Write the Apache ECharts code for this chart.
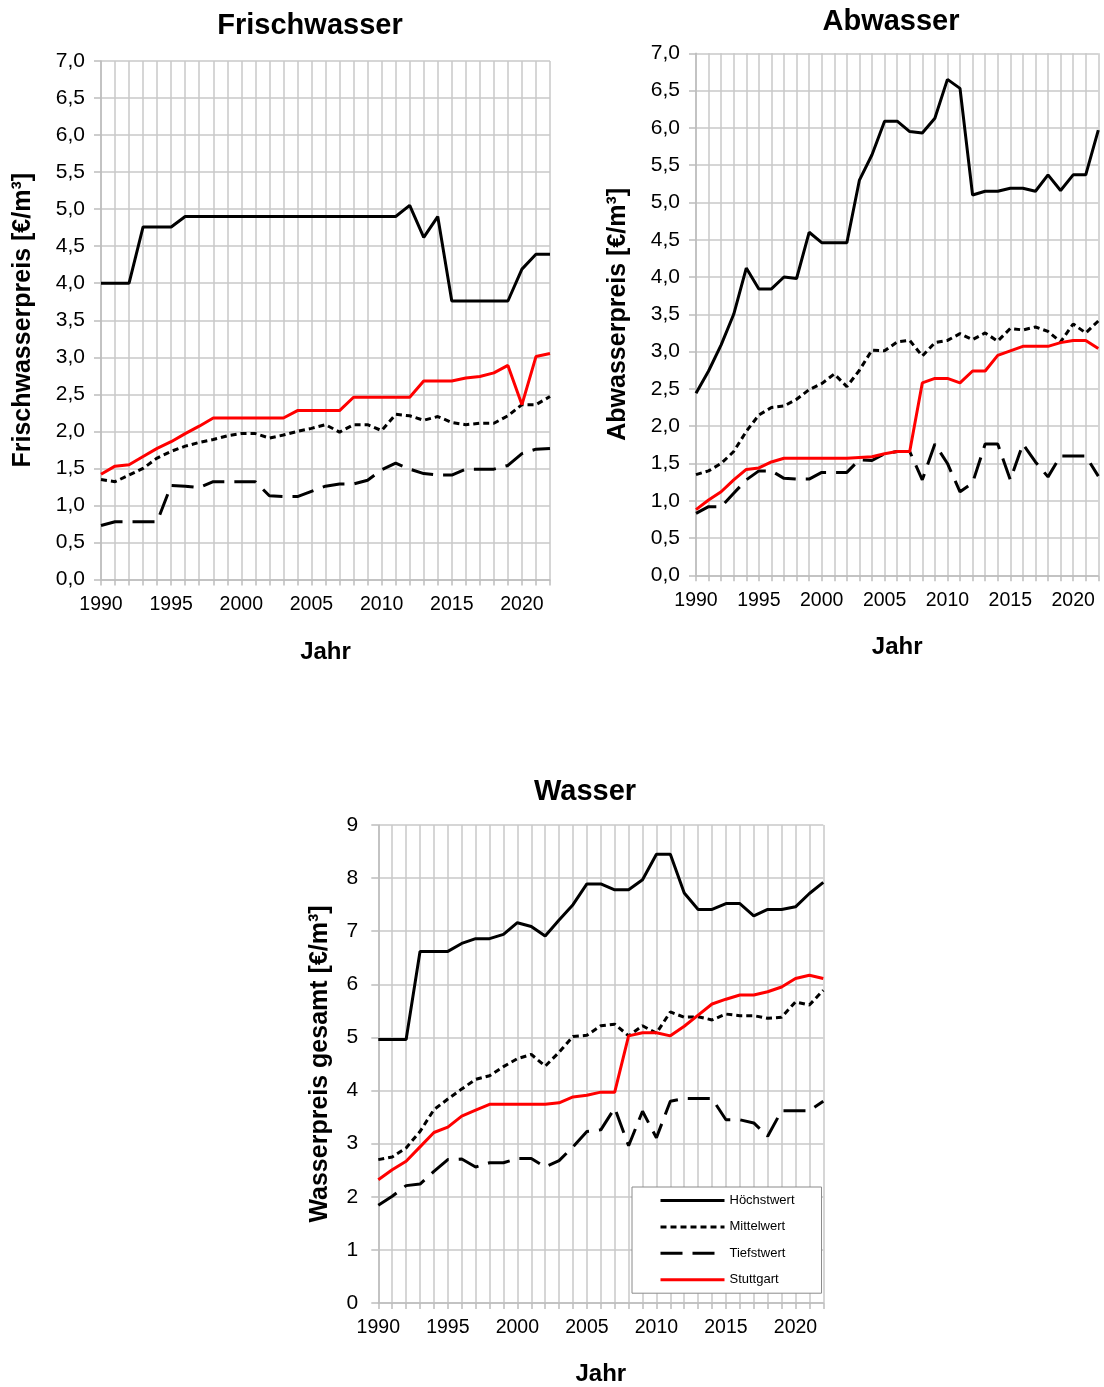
<!DOCTYPE html>
<html><head><meta charset="utf-8">
<script src="https://cdn.jsdelivr.net/npm/echarts@6.0.0/dist/echarts.min.js"></script>
<style>html,body{margin:0;padding:0;background:#fff}#chart{width:1104px;height:1387px}</style>
</head><body><div id="chart"></div>
<script>
const years = ['1990','1991','1992','1993','1994','1995','1996','1997','1998','1999','2000','2001','2002','2003','2004','2005','2006','2007','2008','2009','2010','2011','2012','2013','2014','2015','2016','2017','2018','2019','2020','2021','2022'];
const seriesNames = ['Höchstwert','Mittelwert','Tiefstwert','Stuttgart'];

const frischMax  = [4.00,4.00,4.00,4.76,4.76,4.76,4.90,4.90,4.90,4.90,4.90,4.90,4.90,4.90,4.90,4.90,4.90,4.90,4.90,4.90,4.90,4.90,5.05,4.62,4.90,3.76,3.76,3.76,3.76,3.76,4.19,4.39,4.39];
const frischMean = [1.35,1.32,1.41,1.50,1.64,1.73,1.80,1.85,1.89,1.94,1.97,1.97,1.91,1.95,2.00,2.04,2.09,1.99,2.09,2.09,2.01,2.23,2.21,2.15,2.20,2.12,2.09,2.11,2.11,2.21,2.36,2.36,2.47];
const frischMin  = [0.73,0.78,0.78,0.78,0.78,1.27,1.26,1.24,1.32,1.32,1.32,1.32,1.13,1.12,1.12,1.19,1.26,1.29,1.29,1.34,1.48,1.57,1.49,1.43,1.41,1.41,1.49,1.49,1.49,1.54,1.70,1.76,1.77];
const frischStgt = [1.42,1.53,1.55,1.66,1.77,1.86,1.97,2.07,2.18,2.18,2.18,2.18,2.18,2.18,2.28,2.28,2.28,2.28,2.46,2.46,2.46,2.46,2.46,2.68,2.68,2.68,2.72,2.74,2.79,2.89,2.36,3.01,3.05];

const abwMax  = [2.44,2.74,3.09,3.50,4.12,3.84,3.84,4.00,3.98,4.60,4.46,4.46,4.46,5.30,5.64,6.09,6.09,5.95,5.93,6.13,6.65,6.53,5.10,5.15,5.15,5.19,5.19,5.15,5.37,5.16,5.37,5.37,5.97];
const abwMean = [1.35,1.40,1.50,1.66,1.93,2.15,2.25,2.27,2.36,2.49,2.57,2.70,2.53,2.75,3.02,3.01,3.13,3.15,2.94,3.12,3.15,3.24,3.16,3.25,3.14,3.31,3.29,3.33,3.27,3.13,3.37,3.25,3.41];
const abwMin  = [0.83,0.92,0.92,1.10,1.28,1.40,1.40,1.30,1.29,1.29,1.38,1.38,1.38,1.55,1.54,1.63,1.66,1.66,1.28,1.76,1.50,1.12,1.24,1.76,1.76,1.28,1.76,1.52,1.32,1.60,1.60,1.60,1.33];
const abwStgt = [0.88,1.01,1.12,1.28,1.42,1.44,1.52,1.57,1.57,1.57,1.57,1.57,1.57,1.58,1.59,1.63,1.66,1.66,2.58,2.64,2.64,2.58,2.74,2.74,2.95,3.01,3.07,3.07,3.07,3.12,3.15,3.15,3.04];

const wasMax  = [4.96,4.96,4.96,6.62,6.62,6.62,6.77,6.86,6.86,6.94,7.16,7.09,6.91,7.21,7.50,7.89,7.89,7.78,7.78,7.97,8.45,8.45,7.72,7.41,7.41,7.52,7.52,7.29,7.41,7.41,7.46,7.71,7.92];
const wasMean = [2.70,2.75,2.92,3.23,3.64,3.84,4.03,4.21,4.28,4.45,4.60,4.68,4.46,4.72,5.02,5.04,5.22,5.25,5.03,5.22,5.08,5.48,5.38,5.39,5.33,5.44,5.41,5.41,5.36,5.38,5.67,5.61,5.89];
const wasMin  = [1.84,2.01,2.21,2.24,2.48,2.70,2.71,2.56,2.64,2.64,2.72,2.72,2.56,2.68,2.94,3.23,3.26,3.67,2.96,3.61,3.11,3.80,3.85,3.85,3.85,3.45,3.45,3.39,3.14,3.62,3.62,3.62,3.80];
const wasStgt = [2.32,2.51,2.67,2.94,3.21,3.31,3.52,3.63,3.74,3.74,3.74,3.74,3.74,3.77,3.88,3.91,3.97,3.97,5.03,5.09,5.09,5.03,5.21,5.42,5.63,5.72,5.80,5.80,5.86,5.95,6.11,6.17,6.11];

const FONT = '"Liberation Sans", Arial, Helvetica, sans-serif';
const GRID_COLOR = '#c8c8c8';
const lineStyles = [
  {color:'#000000', width:3, type:'solid'},
  {color:'#000000', width:3, type:[6,4]},
  {color:'#000000', width:3, type:[22,10]},
  {color:'#ff0000', width:3, type:'solid'}
];

const panels = [
  {title:'Frischwasser', tx:310, ty:26, yName:'Frischwasserpreis [€/m³]',
   grid:{left:101, top:61, width:449, height:518.5}, max:7, interval:0.5, dec:true,
   yGap:65, xGap:61, yMargin:16, data:[frischMax, frischMean, frischMin, frischStgt]},
  {title:'Abwasser', tx:891, ty:22, yName:'Abwasserpreis [€/m³]',
   grid:{left:696, top:53.3, width:402.3, height:522}, max:7, interval:0.5, dec:true,
   yGap:65, xGap:60, yMargin:16, data:[abwMax, abwMean, abwMin, abwStgt]},
  {title:'Wasser', tx:585, ty:792, yName:'Wasserpreis gesamt [€/m³]',
   grid:{left:378.3, top:825, width:445, height:478.5}, max:9, interval:1, dec:false,
   yGap:46, xGap:59, yMargin:20, data:[wasMax, wasMean, wasMin, wasStgt]}
];

const grids = [], xAxes = [], yAxes = [], series = [], graphics = [];
panels.forEach((p, i) => {
  grids.push(Object.assign({containLabel:false}, p.grid));
  xAxes.push({
    type:'category', gridIndex:i, data:years, boundaryGap:false,
    name:'Jahr', nameLocation:'middle', nameGap:p.xGap,
    nameTextStyle:{fontFamily:FONT, fontSize:24, fontWeight:'bold', color:'#000'},
    axisLine:{show:true, lineStyle:{color:'#bdbdbd', width:1.5}},
    axisTick:{show:true, interval:0, length:6, lineStyle:{color:'#bdbdbd', width:1.5}},
    axisLabel:{interval:4, margin:15, fontFamily:FONT, fontSize:19.5, color:'#000'},
    splitLine:{show:true, interval:0, lineStyle:{color:GRID_COLOR, width:1.5}}
  });
  yAxes.push({
    type:'value', gridIndex:i, min:0, max:p.max, interval:p.interval,
    name:p.yName, nameLocation:'middle', nameGap:p.yGap,
    nameTextStyle:{fontFamily:FONT, fontSize:25, fontWeight:'bold', color:'#000'},
    axisLine:{show:true, lineStyle:{color:'#bdbdbd', width:1.5}},
    axisTick:{show:true, length:7, lineStyle:{color:'#bdbdbd', width:1.5}},
    axisLabel:{margin:p.yMargin, fontFamily:FONT, fontSize:21, color:'#000',
      formatter: v => p.dec ? v.toFixed(1).replace('.', ',') : String(v)},
    splitLine:{show:true, lineStyle:{color:GRID_COLOR, width:1.5}}
  });
  p.data.forEach((arr, k) => {
    series.push({
      type:'line', name:seriesNames[k], xAxisIndex:i, yAxisIndex:i, data:arr,
      symbol:'none', showSymbol:false, smooth:false, z:2 + k,
      lineStyle:Object.assign({}, lineStyles[k]), itemStyle:{color:lineStyles[k].color},
      emphasis:{disabled:true}
    });
  });
  graphics.push({
    type:'text', x:p.tx, y:p.ty, z:100,
    style:{text:p.title, font:'bold 29px ' + FONT, fill:'#000',
      align:'center', verticalAlign:'middle', textAlign:'center', textVerticalAlign:'middle'}
  });
});

const chart = echarts.init(document.getElementById('chart'), null, {renderer:'canvas'});
chart.setOption({
  animation:false,
  backgroundColor:'#ffffff',
  grid:grids, xAxis:xAxes, yAxis:yAxes, series:series, graphic:graphics,
  legend:{
    data:seriesNames, orient:'vertical', left:632, top:1187,
    padding:[7, 27, 7, 27], itemWidth:64, itemHeight:14, itemGap:13.4,
    backgroundColor:'#ffffff', borderColor:'#8a8a8a', borderWidth:1,
    textStyle:{fontFamily:FONT, fontSize:13, color:'#000'},
    lineStyle:{width:3}, itemStyle:{opacity:0, color:'transparent', borderWidth:0},
    selectedMode:false
  }
});
</script></body></html>
